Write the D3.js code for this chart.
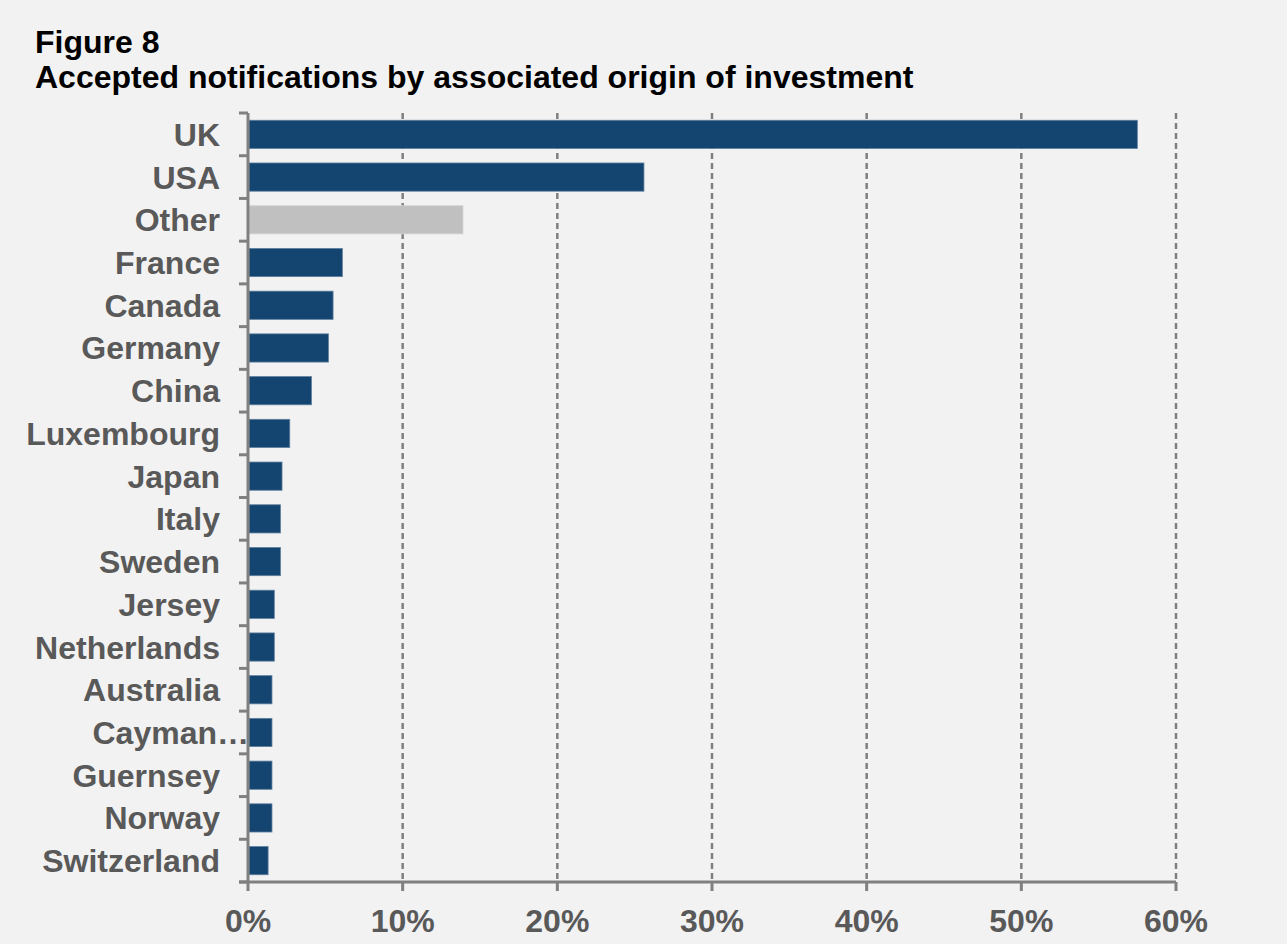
<!DOCTYPE html>
<html>
<head>
<meta charset="utf-8">
<script src="https://cdn.jsdelivr.net/npm/d3@7"></script>
<style>
  body { margin: 0; background: #f2f2f2; }
  svg { display: block; font-family: "Liberation Sans", Arial, sans-serif; }
</style>
</head>
<body>
<script>
// chart data
var countries = ["UK", "USA", "Other", "France", "Canada", "Germany", "China",
  "Luxembourg", "Japan", "Italy", "Sweden", "Jersey", "Netherlands", "Australia",
  "Cayman Islands", "Guernsey", "Norway", "Switzerland"];
var shares = [57.5, 25.6, 13.9, 6.1, 5.5, 5.2, 4.1, 2.7, 2.2, 2.1, 2.1, 1.7, 1.7,
  1.55, 1.55, 1.55, 1.55, 1.3];
var ticks = [0, 10, 20, 30, 40, 50, 60];
var titleLines = ["Figure 8", "Accepted notifications by associated origin of investment"];

var width = 1287, height = 944;
var margin = { top: 113, right: 111, bottom: 62, left: 248 };

var svg = d3.select("body").append("svg")
  .attr("width", width)
  .attr("height", height);

svg.append("rect").attr("width", width).attr("height", height).attr("fill", "#f2f2f2");

svg.append("g").selectAll("text")
  .data(titleLines)
  .enter().append("text")
  .attr("x", 35)
  .attr("y", function(d, i) { return 53 + i * 35; })
  .attr("font-size", "32px")
  .attr("font-weight", "bold")
  .attr("fill", "#000")
  .text(function(d) { return d; });

var x = d3.scaleLinear()
  .domain([0, 60])
  .range([margin.left, width - margin.right]);

var y = d3.scaleBand()
  .domain(countries)
  .range([margin.top, height - margin.bottom])
  .paddingInner(0.34)
  .paddingOuter(0.17);

var grey = "#808080";

// dashed gridlines
svg.append("g").selectAll("line")
  .data(ticks.slice(1))
  .enter().append("line")
  .attr("x1", function(d) { return x(d); })
  .attr("x2", function(d) { return x(d); })
  .attr("y1", margin.top)
  .attr("y2", height - margin.bottom)
  .attr("stroke", grey)
  .attr("stroke-width", 2.5)
  .attr("stroke-dasharray", "6,4");

// bars
svg.append("g").selectAll("rect")
  .data(countries)
  .enter().append("rect")
  .attr("x", x(0) + 1)
  .attr("y", function(d) { return y(d); })
  .attr("width", function(d, i) { return x(shares[i]) - x(0) - 1; })
  .attr("height", y.bandwidth())
  .attr("fill", function(d) { return d === "Other" ? "#c0c0c0" : "#144470"; })
  .attr("stroke", function(d) { return d === "Other" ? "#d4d4d4" : "#5f7f9e"; })
  .attr("stroke-width", 0.8);

// y axis: line plus ticks at band boundaries
var step = y.step();
var bounds = d3.range(countries.length + 1).map(function(i) { return margin.top + i * step; });

svg.append("line")
  .attr("x1", x(0)).attr("x2", x(0))
  .attr("y1", margin.top).attr("y2", height - margin.bottom)
  .attr("stroke", grey).attr("stroke-width", 3);

svg.append("g").selectAll("line")
  .data(bounds)
  .enter().append("line")
  .attr("x1", x(0) - 9).attr("x2", x(0))
  .attr("y1", function(d) { return d; })
  .attr("y2", function(d) { return d; })
  .attr("stroke", grey).attr("stroke-width", 3);

svg.append("g").selectAll("text")
  .data(countries)
  .enter().append("text")
  .attr("x", function(d) { return d.length > 12 ? x(0) + 1 : 220; })
  .attr("y", function(d) { return y(d) + y.bandwidth() / 2; })
  .attr("dy", "0.36em")
  .attr("text-anchor", "end")
  .attr("font-size", "32px")
  .attr("font-weight", "bold")
  .attr("fill", "#595959")
  .text(function(d) { return d.length > 12 ? d.split(" ")[0] + "\u2026" : d; });

// x axis
var xAxis = svg.append("g")
  .attr("transform", "translate(0," + (height - margin.bottom) + ")");

xAxis.append("line")
  .attr("x1", x(0) - 9).attr("x2", x(60))
  .attr("stroke", grey).attr("stroke-width", 3);

xAxis.selectAll("line.tick")
  .data(ticks)
  .enter().append("line")
  .attr("class", "tick")
  .attr("x1", function(d) { return x(d); })
  .attr("x2", function(d) { return x(d); })
  .attr("y1", 0).attr("y2", 9)
  .attr("stroke", grey).attr("stroke-width", 3);

xAxis.selectAll("text")
  .data(ticks)
  .enter().append("text")
  .attr("x", function(d) { return x(d); })
  .attr("y", 50)
  .attr("text-anchor", "middle")
  .attr("font-size", "32px")
  .attr("font-weight", "bold")
  .attr("fill", "#595959")
  .text(function(d) { return d + "%"; });
</script>
</body>
</html>
